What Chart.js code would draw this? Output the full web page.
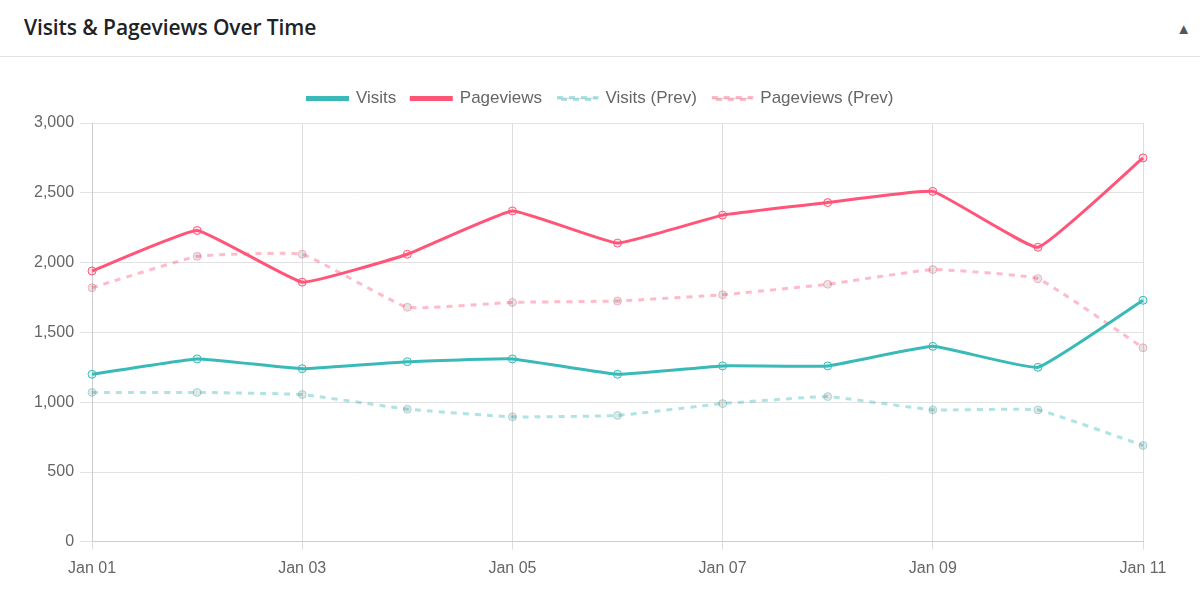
<!DOCTYPE html>
<html>
<head>
<meta charset="utf-8">
<script src="https://cdn.jsdelivr.net/npm/chart.js@4.4.1/dist/chart.umd.min.js"></script>
<style>
  html, body { margin: 0; padding: 0; background: #fff; }
  body { width: 1200px; height: 612px; overflow: hidden; font-family: "Open Sans", "Noto Sans", sans-serif; }
  .header {
    height: 56px; border-bottom: 1px solid #e2e2e2; position: relative;
  }
  .header h2 {
    margin: 0; position: absolute; left: 24px; top: 13px;
    font-size: 21px; font-weight: 600; color: #1d2327; letter-spacing: -0.1px;
  }
  .header .toggle {
    position: absolute; right: 9px; top: 18px; font-size: 15px; color: #50575e;
  }
  .chart-wrap { position: absolute; left: 20px; top: 75px; width: 1160px; height: 512px; }
</style>
</head>
<body>
<div class="header">
  <h2>Visits &amp; Pageviews Over Time</h2>
  <span class="toggle">&#9650;</span>
</div>
<div class="chart-wrap"><canvas id="trafficChart"></canvas></div>
<script>
const days = ['Jan 01', 'Jan 02', 'Jan 03', 'Jan 04', 'Jan 05', 'Jan 06', 'Jan 07', 'Jan 08', 'Jan 09', 'Jan 10', 'Jan 11'];
const visits = [1200, 1310, 1240, 1290, 1310, 1200, 1260, 1260, 1400, 1250, 1730];
const pageviews = [1940, 2230, 1860, 2060, 2370, 2140, 2340, 2430, 2510, 2110, 2750];
const visitsPrev = [1070, 1070, 1055, 950, 895, 905, 990, 1040, 945, 945, 690];
const pageviewsPrev = [1820, 2045, 2060, 1680, 1715, 1725, 1770, 1845, 1950, 1885, 1390];

const teal = 'rgb(57, 186, 184)';
const pink = 'rgb(255, 85, 121)';
const tealLight = 'rgba(57, 186, 184, 0.4)';
const pinkLight = 'rgba(255, 85, 121, 0.4)';

Chart.defaults.font.family = '"Liberation Sans", Arial, sans-serif';
Chart.defaults.font.size = 16;
Chart.defaults.color = '#666';

// a bit more room under the legend, and centre it on the page
const legendGap = {
    id: 'legendGap',
    beforeInit(chart) {
        const fit = chart.legend.fit;
        chart.legend.fit = function () {
            fit.bind(chart.legend)();
            this.height += 6;
        };
    },
    afterLayout(chart) {
        chart.legend.left += 15;
        chart.legend.right += 15;
    }
};

const ctx = document.getElementById('trafficChart').getContext('2d');
new Chart(ctx, {
    type: 'line',
    data: {
        labels: days,
        datasets: [
            {
                label: 'Visits',
                data: visits,
                borderColor: teal,
                backgroundColor: 'rgba(57, 186, 184, 0.15)',
                borderWidth: 3,
                pointRadius: 4,
                pointBorderWidth: 1,
                tension: 0.1
            },
            {
                label: 'Pageviews',
                data: pageviews,
                borderColor: pink,
                backgroundColor: 'rgba(255, 85, 121, 0.15)',
                borderWidth: 3,
                pointRadius: 4,
                pointBorderWidth: 1,
                tension: 0.1
            },
            {
                label: 'Visits (Prev)',
                data: visitsPrev,
                borderColor: tealLight,
                backgroundColor: 'rgba(0, 0, 0, 0.1)',
                borderWidth: 3,
                borderDash: [6, 6],
                pointRadius: 4,
                pointBorderWidth: 1,
                tension: 0.1
            },
            {
                label: 'Pageviews (Prev)',
                data: pageviewsPrev,
                borderColor: pinkLight,
                backgroundColor: 'rgba(0, 0, 0, 0.1)',
                borderWidth: 3,
                borderDash: [6, 6],
                pointRadius: 4,
                pointBorderWidth: 1,
                tension: 0.1
            }
        ]
    },
    options: {
        responsive: true,
        maintainAspectRatio: false,
        animation: false,
        layout: { padding: { left: 8, right: 37, top: 0, bottom: 0 } },
        plugins: {
            legend: {
                position: 'top',
                labels: { boxWidth: 40, boxHeight: 2, padding: 15, font: { size: 17 } }
            },
            tooltip: { enabled: false }
        },
        scales: {
            x: {
                grid: { color: '#ddd' },
                border: { color: '#ccc' },
                ticks: { autoSkip: true, maxTicksLimit: 6, maxRotation: 0, padding: 9 }
            },
            y: {
                min: 0,
                max: 3000,
                grid: { color: '#e2e2e2', tickLength: 12 },
                border: { color: '#ccc' },
                ticks: { stepSize: 500, padding: 6 }
            }
        }
    },
    plugins: [legendGap]
});
</script>
</body>
</html>
